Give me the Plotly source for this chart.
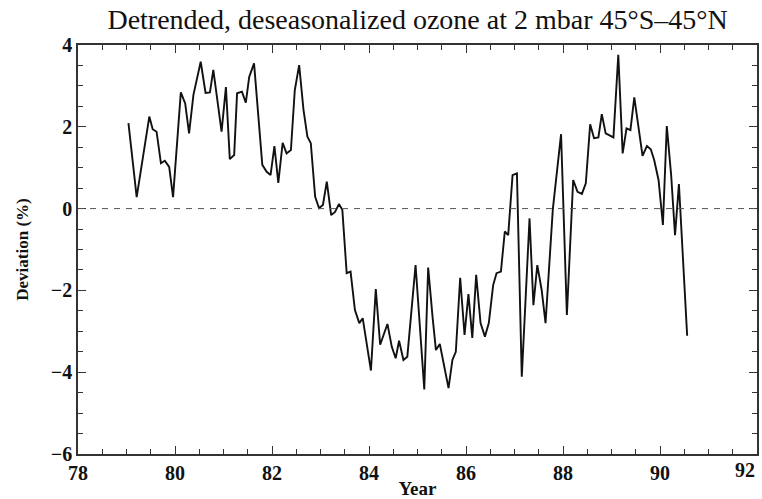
import plotly.graph_objects as go

years = [79.04, 79.21, 79.47, 79.54, 79.62, 79.71, 79.79, 79.88, 79.96, 80.12,
         80.21, 80.29, 80.38, 80.53, 80.63, 80.72, 80.79, 80.96, 81.05, 81.13,
         81.22, 81.28, 81.38, 81.46, 81.53, 81.63, 81.80, 81.89, 81.97, 82.05,
         82.13, 82.22, 82.30, 82.39, 82.47, 82.56, 82.65, 82.73, 82.80, 82.89,
         82.97, 83.05, 83.13, 83.22, 83.30, 83.38, 83.45, 83.54, 83.62, 83.71,
         83.80, 83.87, 84.04, 84.14, 84.23, 84.38, 84.47, 84.55, 84.62, 84.71,
         84.79, 84.96, 85.14, 85.22, 85.31, 85.38, 85.46, 85.55, 85.64, 85.72,
         85.79, 85.88, 85.97, 86.05, 86.13, 86.21, 86.30, 86.39, 86.47, 86.56,
         86.63, 86.72, 86.80, 86.87, 86.96, 87.05, 87.15, 87.31, 87.39, 87.47,
         87.56, 87.64, 87.79, 87.96, 88.08, 88.21, 88.30, 88.39, 88.47, 88.56,
         88.64, 88.73, 88.80, 88.88, 89.04, 89.14, 89.23, 89.31, 89.39, 89.47,
         89.64, 89.73, 89.81, 89.88, 89.97, 90.06, 90.14, 90.23, 90.31, 90.39,
         90.56]
deviation = [2.09, 0.28, 2.25, 1.94, 1.88, 1.11, 1.17, 1.02, 0.28, 2.84,
             2.57, 1.84, 2.78, 3.59, 2.83, 2.84, 3.39, 1.88, 2.97, 1.21,
             1.31, 2.82, 2.86, 2.59, 3.22, 3.55, 1.07, 0.90, 0.82, 1.53,
             0.63, 1.61, 1.35, 1.43, 2.90, 3.51, 2.41, 1.76, 1.60, 0.29,
             0.01, 0.09, 0.66, -0.16, -0.08, 0.11, -0.03, -1.58, -1.54, -2.48,
             -2.80, -2.68, -3.96, -1.97, -3.33, -2.82, -3.38, -3.66, -3.23, -3.70,
             -3.62, -1.38, -4.42, -1.44, -2.64, -3.46, -3.31, -3.82, -4.39, -3.70,
             -3.50, -1.69, -3.09, -2.09, -3.16, -1.62, -2.80, -3.13, -2.80, -1.87,
             -1.58, -1.54, -0.56, -0.65, 0.82, 0.86, -4.11, -0.24, -2.36, -1.38,
             -1.99, -2.80, -0.02, 1.82, -2.60, 0.70, 0.41, 0.36, 0.62, 2.06,
             1.72, 1.74, 2.31, 1.84, 1.74, 3.76, 1.35, 1.96, 1.92, 2.72,
             1.29, 1.53, 1.45, 1.19, 0.70, -0.40, 2.02, 0.82, -0.65, 0.60,
             -3.11]

x_ticks = [78, 80, 82, 84, 86, 88, 90, 92]
y_ticks = [4, 2, 0, -2, -4, -6]

FONT = "Liberation Serif"
TICKFONT = dict(family=FONT, size=20, color="#111111", weight="bold")

fig = go.Figure()
fig.add_trace(go.Scatter(x=years, y=deviation, mode="lines",
                         line=dict(color="#111111", width=1.9), showlegend=False))
fig.add_shape(type="line", xref="x", yref="y", x0=78, x1=92, y0=0, y1=0,
              line=dict(color="#555555", width=1, dash="6px,6px"))

axis_common = dict(showgrid=False, zeroline=False, showline=True, linecolor="#333333",
                   linewidth=1.5, mirror="ticks", ticks="inside", ticklen=8,
                   tickwidth=1.2, tickcolor="#333333",
                   automargin=False, tickfont=TICKFONT)

# last tick label is drawn right-aligned at the edge (as in the reference) so it stays inside
x_ticktext = [str(v) for v in x_ticks[:-1]] + [""]

fig.update_xaxes(range=[78, 92], tickvals=x_ticks, ticktext=x_ticktext,
                 minor=dict(dtick=0.5, ticks="inside", ticklen=5, tickcolor="#333333", tickwidth=1.2),
                 title=dict(text="Year", font=dict(family=FONT, size=19, color="#111111", weight="bold"),
                            standoff=1),
                 **axis_common)
fig.update_yaxes(range=[-6, 4], tickvals=y_ticks,
                 minor=dict(dtick=0.5, ticks="inside", ticklen=5, tickcolor="#333333", tickwidth=1.2),
                 title=dict(text="Deviation (%)", font=dict(family=FONT, size=17, color="#111111", weight="bold"),
                            standoff=18),
                 **axis_common)

fig.add_annotation(x=x_ticks[-1], xref="x", y=0, yref="paper", text=str(x_ticks[-1]),
                   showarrow=False, xanchor="right", yanchor="top", yshift=-3,
                   font=TICKFONT)

fig.update_layout(
    width=762, height=499,
    margin=dict(l=78, r=5, t=45, b=45),
    paper_bgcolor="white", plot_bgcolor="white",
    title=dict(text="Detrended, deseasonalized ozone at 2 mbar 45°S–45°N",
               font=dict(family=FONT, size=28, color="#111111"),
               x=0.548, xanchor="center", y=0.962, yanchor="middle"),
)

fig.write_html("out.html")
